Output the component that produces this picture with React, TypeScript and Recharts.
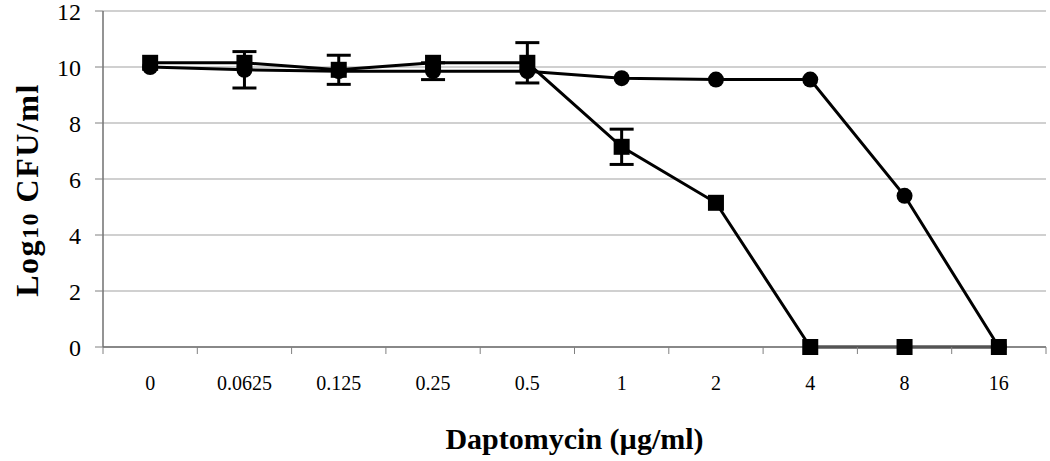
import React from "react";
import {
  LineChart,
  Line,
  XAxis,
  YAxis,
  CartesianGrid,
  ErrorBar,
} from "recharts";

const categories = ["0", "0.0625", "0.125", "0.25", "0.5", "1", "2", "4", "8", "16"];
const circleValues = [10.0, 9.9, 9.85, 9.85, 9.85, 9.6, 9.55, 9.55, 5.4, 0];
const circleErrors = [0, 0.65, 0, 0.3, 0, 0, 0, 0, 0, 0];
const squareValues = [10.15, 10.15, 9.9, 10.15, 10.15, 7.15, 5.15, 0, 0, 0];
const squareErrors = [0, 0, 0.52, 0, 0.72, 0.63, 0, 0, 0, 0];
const yTicks = [0, 2, 4, 6, 8, 10, 12];

const FONT = "'Liberation Serif', 'Times New Roman', serif";

// each category sits in the middle of its slot, ticks go on the slot edges
const data = categories.map((c, i) => ({
  x: i + 0.5,
  label: c,
  circle: circleValues[i],
  circleErr: circleErrors[i],
  square: squareValues[i],
  squareErr: squareErrors[i],
}));

const xTicks: number[] = [];
categories.forEach((_, i) => {
  xTicks.push(i, i + 0.5);
});
xTicks.push(categories.length);

const XTick = (props: any) => {
  const { x, y, payload } = props;
  const v = payload.value;
  if (Number.isInteger(v)) {
    return <line x1={x} y1={y} x2={x} y2={y + 7} stroke="#808080" strokeWidth={1} />;
  }
  return (
    <text x={x} y={y + 43} textAnchor="middle" fontFamily={FONT} fontSize={20} fill="#000">
      {categories[Math.floor(v)]}
    </text>
  );
};

const SquareDot = (props: any) => {
  const { cx, cy } = props;
  if (cx == null || cy == null) return null;
  return <rect key={`s-${cx}`} x={cx - 8} y={cy - 8} width={16} height={16} fill="#000" />;
};

const CircleDot = (props: any) => {
  const { cx, cy } = props;
  if (cx == null || cy == null) return null;
  return <circle key={`c-${cx}`} cx={cx} cy={cy} r={8} fill="#000" />;
};

const YLabel = () => (
  <text
    x={0}
    y={0}
    transform="translate(38,190) rotate(-90)"
    textAnchor="middle"
    fontFamily={FONT}
    fontWeight="bold"
    fontSize={32}
    fill="#000"
    letterSpacing={1.5}
  >
    Log
    <tspan fontSize={24}>10</tspan> CFU/ml
  </text>
);

export default function App() {
  return (
    <div style={{ position: "absolute", left: 0, top: 0, background: "#fff" }}>
      <LineChart
        width={1050}
        height={461}
        data={data}
        margin={{ top: 11, right: 4, left: 0, bottom: 0 }}
      >
        <CartesianGrid vertical={false} stroke="#c0c0c0" strokeWidth={1.5} />
        <XAxis
          type="number"
          dataKey="x"
          domain={[0, categories.length]}
          ticks={xTicks}
          interval={0}
          tick={<XTick />}
          tickLine={false}
          tickSize={0}
          tickMargin={0}
          axisLine={{ stroke: "#707070", strokeWidth: 1.5 }}
          height={114}
          label={{
            value: "Daptomycin (µg/ml)",
            position: "insideBottom",
            offset: 12,
            style: { fontFamily: FONT, fontWeight: "bold", fontSize: 30, fill: "#000" },
          }}
        />
        <YAxis
          domain={[0, 12]}
          ticks={yTicks}
          interval={0}
          width={103}
          tickSize={8}
          tickMargin={14}
          tickLine={{ stroke: "#808080" }}
          axisLine={{ stroke: "#707070", strokeWidth: 1.5 }}
          tick={{ fontFamily: FONT, fontSize: 24, fill: "#000" }}
          label={<YLabel />}
        />
        <YAxis
          yAxisId="frame"
          orientation="right"
          width={0}
          tick={false}
          tickLine={false}
          axisLine={{ stroke: "#a0a0a0", strokeWidth: 1.5 }}
        />
        <Line
          dataKey="circle"
          stroke="#000"
          strokeWidth={3}
          dot={<CircleDot />}
          activeDot={false}
          isAnimationActive={false}
        >
          <ErrorBar dataKey="circleErr" width={12} stroke="#000" strokeWidth={3} direction="y" />
        </Line>
        <Line
          dataKey="square"
          stroke="#000"
          strokeWidth={3}
          dot={<SquareDot />}
          activeDot={false}
          isAnimationActive={false}
        >
          <ErrorBar dataKey="squareErr" width={12} stroke="#000" strokeWidth={3} direction="y" />
        </Line>
      </LineChart>
    </div>
  );
}
